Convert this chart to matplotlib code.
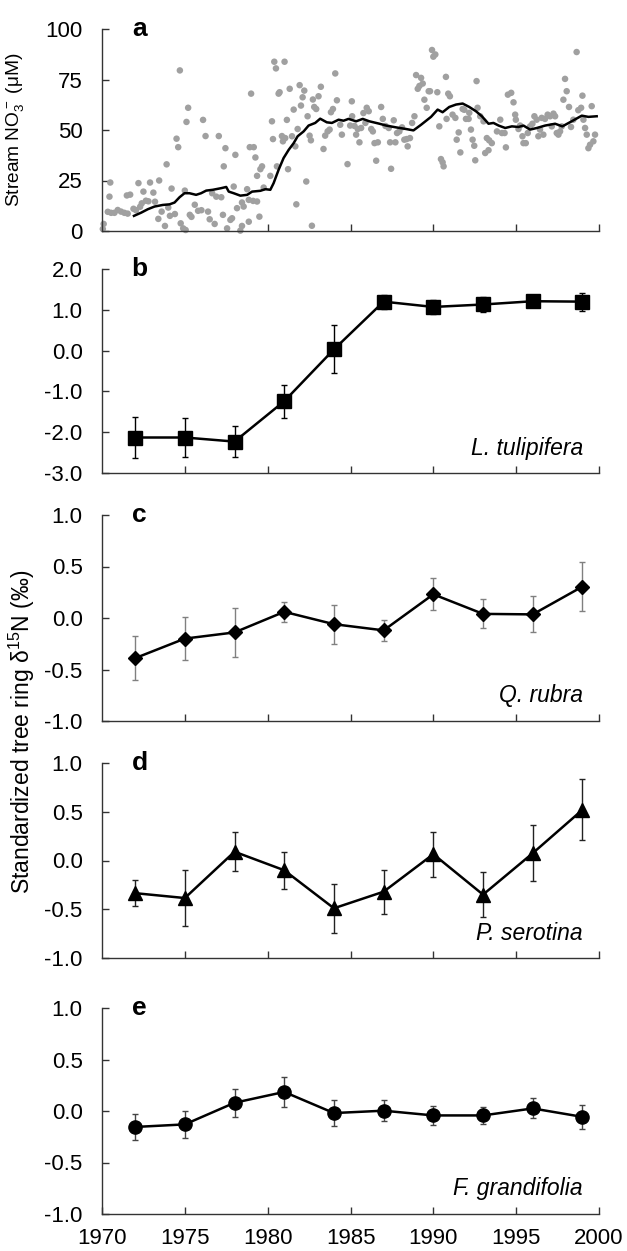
import numpy as np
import matplotlib
matplotlib.use('Agg')
from matplotlib import pyplot as plt

plt.rcParams['font.family'] = ['Liberation Sans', 'DejaVu Sans']
plt.rcParams['axes.unicode_minus'] = False
plt.rcParams['mathtext.fontset'] = 'custom'
plt.rcParams['mathtext.rm'] = 'Liberation Sans'
plt.rcParams['mathtext.it'] = 'Liberation Sans:italic'
plt.rcParams['mathtext.bf'] = 'Liberation Sans:bold'

# stream nitrate, individual samples
no3_year = [1970.05, 1970.1, 1970.45, 1970.5, 1970.35, 1970.55, 1970.75, 1970.95, 1971.15,
            1971.35, 1971.5, 1971.55, 1971.7, 1971.9, 1972.05, 1972.2, 1972.3, 1972.4, 1972.5,
            1972.65, 1972.8, 1972.9, 1973.1, 1973.2, 1973.4, 1973.45, 1973.6, 1973.8, 1973.9,
            1974.0, 1974.1, 1974.2, 1974.4, 1974.5, 1974.6, 1974.7, 1974.75, 1974.9, 1975.0,
            1975.05, 1975.1, 1975.2, 1975.3, 1975.4, 1975.6, 1975.8, 1976.0, 1976.1, 1976.25,
            1976.4, 1976.5, 1976.65, 1976.8, 1976.9, 1977.05, 1977.2, 1977.3, 1977.35,
            1977.45, 1977.55, 1977.75, 1977.85, 1977.95, 1978.05, 1978.15, 1978.35, 1978.45,
            1978.45, 1978.55, 1978.76, 1978.86, 1978.86, 1978.92, 1979.0, 1979.12, 1979.16,
            1979.26, 1979.36, 1979.36, 1979.5, 1979.56, 1979.66, 1979.76, 1980.16, 1980.26,
            1980.32, 1980.4, 1980.5, 1980.56, 1980.66, 1980.72, 1980.86, 1980.92, 1981.02,
            1981.06, 1981.16, 1981.23, 1981.33, 1981.47, 1981.57, 1981.67, 1981.73, 1981.81,
            1981.93, 1982.01, 1982.11, 1982.21, 1982.33, 1982.41, 1982.53, 1982.61, 1982.67,
            1982.73, 1982.81, 1982.93, 1983.07, 1983.21, 1983.37, 1983.47, 1983.62, 1983.74,
            1983.82, 1983.94, 1984.08, 1984.18, 1984.38, 1984.48, 1984.82, 1984.98, 1985.08,
            1985.1, 1985.24, 1985.34, 1985.44, 1985.54, 1985.64, 1985.78, 1985.9, 1985.98,
            1986.1, 1986.25, 1986.35, 1986.45, 1986.55, 1986.65, 1986.85, 1986.95, 1987.11,
            1987.31, 1987.39, 1987.45, 1987.61, 1987.71, 1987.81, 1987.95, 1988.11, 1988.25,
            1988.39, 1988.45, 1988.59, 1988.72, 1988.86, 1988.96, 1989.06, 1989.16, 1989.26,
            1989.36, 1989.46, 1989.6, 1989.72, 1989.8, 1989.92, 1990.0, 1990.12, 1990.24,
            1990.36, 1990.46, 1990.56, 1990.62, 1990.76, 1990.8, 1990.9, 1991.0, 1991.16,
            1991.33, 1991.41, 1991.53, 1991.63, 1991.77, 1991.87, 1991.97, 1992.13, 1992.17,
            1992.27, 1992.37, 1992.47, 1992.53, 1992.61, 1992.67, 1992.83, 1993.03, 1993.23,
            1993.37, 1993.53, 1993.13, 1993.33, 1993.84, 1994.04, 1994.14, 1994.3, 1994.38,
            1994.5, 1994.7, 1994.84, 1994.94, 1994.98, 1995.14, 1995.24, 1995.38, 1995.44,
            1995.58, 1995.7, 1995.84, 1995.98, 1996.1, 1996.24, 1996.34, 1996.44, 1996.54,
            1996.64, 1996.74, 1996.9, 1997.05, 1997.15, 1997.25, 1997.35, 1997.45, 1997.55,
            1997.65, 1997.75, 1997.85, 1997.95, 1998.05, 1998.19, 1998.31, 1998.45, 1998.65,
            1998.75, 1998.92, 1999.0, 1999.06, 1999.16, 1999.26, 1999.36, 1999.46, 1999.56,
            1999.66, 1999.76]
no3_conc = [1.0, 3.5, 17, 24, 9.5, 9.0, 9.0, 10.4, 9.6,
            9.0, 17.6, 8.6, 18, 11, 10.3, 23.7, 12, 13.7, 19.5,
            15, 14.7, 24, 19, 14.5, 6, 25, 9.6, 2.5, 33,
            11.6, 7.5, 21, 8.4, 45.7, 41.5, 79.5, 3.8, 1.3, 20,
            0.5, 54, 61, 8, 7, 13, 10, 10.3, 55, 47,
            9.6, 5.8, 18.7, 3.5, 17, 47, 16.7, 8, 32,
            41, 1.3, 5.5, 6.3, 22, 37.7, 11.3, 0.2, 14.1,
            2.5, 12.1, 20.7, 15.4, 4.6, 41.5, 68, 14.9, 41.5,
            36.4, 27.3, 14.6, 7.1, 30.6, 32, 21.5, 27.3, 54.3,
            45.5, 83.8, 80.5, 32, 68, 68.7, 47, 44.4, 83.8,
            46, 55, 30.6, 70.4, 46.9, 60.1, 41.9, 13.2, 50.5,
            72.2, 62.1, 66.2, 69.5, 24.5, 56.8, 47.2, 44.9, 2.6,
            65.1, 61.4, 60.4, 66.7, 71.4, 40.6, 47.2, 49.3, 50.2,
            58.8, 60.4, 78, 64.7, 52.6, 47.7, 33.1, 52.2, 64.2,
            56.8, 52, 47.7, 50.5, 43.9, 51, 58.4, 53.5, 61,
            59.3, 50.5, 49.3, 43.5, 34.8, 43.9, 61.4, 55.5, 52,
            51, 43.9, 30.8, 54.8, 43.9, 48.5, 49.3, 51.3, 45.2,
            45.5, 41.9, 46, 53.5, 56.8, 77.2, 70.4, 71.8, 75.8,
            73, 65, 61, 69.2, 69.2, 89.6, 86.3, 87.4, 68.7,
            51.8, 35.6, 34, 32, 76.3, 55.5, 68, 66.7, 57.6,
            56, 45.2, 48.8, 38.9, 60.4, 60, 55.5, 55.5, 58.5,
            50.2, 45.2, 42.2, 35, 74.2, 61, 56.8, 54.3, 46,
            44.9, 43.5, 38.6, 40, 49.3, 55.1, 48.5, 48.5, 41.4,
            67.5, 68.4, 63.7, 57.6, 55.1, 50.5, 52.2, 46.9, 43.5,
            43.5, 48.5, 51.8, 53.1, 56.8, 55.1, 46.9, 50.2, 56,
            47.7, 55.5, 57.6, 56.8, 51.8, 58.1, 56.8, 48.5, 47.7,
            49.3, 51.8, 65, 75.3, 69.2, 61.4, 51.5, 55.1, 88.6,
            59.8, 61, 67, 55.1, 51, 47.7, 41, 42.7, 61.8,
            44.4, 47.7]

# running mean of stream nitrate (black line)
run_year = [1971.93, 1972.37, 1972.77, 1973.17, 1973.67, 1974.08, 1974.38, 1974.68, 1974.98,
            1975.28, 1975.68, 1975.98, 1976.29, 1976.69, 1977.19, 1977.5, 1977.65, 1977.95,
            1978.35, 1978.76, 1979.06, 1979.56, 1979.86, 1980.16, 1980.36, 1980.66, 1980.96,
            1981.27, 1981.57, 1981.81, 1982.17, 1982.47, 1982.87, 1983.17, 1983.57, 1983.88,
            1984.28, 1984.58, 1984.88, 1985.34, 1985.74, 1986.14, 1986.75, 1987.15, 1987.75,
            1988.35, 1988.8, 1989.26, 1989.86, 1990.26, 1990.56, 1990.96, 1991.37, 1991.77,
            1992.17, 1992.57, 1992.93, 1993.33, 1993.63, 1993.94, 1994.34, 1994.74, 1995.14,
            1995.44, 1995.84, 1996.25, 1996.75, 1997.35, 1997.79, 1998.35, 1998.96, 1999.36,
            1999.86]
run_conc = [7.5, 9.1, 10.8, 12.1, 12.9, 13.2, 14.1, 16.7, 18.7,
            18.7, 17.9, 18.7, 20.0, 20.4, 21.2, 21.8, 19.5, 18.7,
            17.5, 17.9, 19.5, 19.9, 20.7, 20.4, 23.7, 30.3, 36.1,
            40.2, 43.5, 46.9, 49.3, 52.2, 53.5, 55.6, 53.8, 53.5,
            55.1, 54.6, 55.5, 54.3, 55.5, 54.3, 53.1, 52.2, 51.3,
            50.5, 49.8, 52.6, 56.5, 60.1, 58.8, 61.4, 62.6, 63.1,
            61.4, 59.3, 56.8, 53.1, 53.5, 52.2, 51.0, 51.8, 51.5,
            52.2, 50.2, 51.0, 52.2, 53.1, 51.8, 54.3, 57.1, 56.5,
            56.8]

# standardized tree ring d15N, mean and error
ring_year = [1972, 1975, 1978, 1981, 1984, 1987, 1990, 1993, 1996, 1999]
lt_mean = [-2.13, -2.13, -2.23, -1.24, 0.03, 1.20, 1.07, 1.13, 1.21, 1.20]
lt_err = [0.51, 0.47, 0.38, 0.40, 0.59, 0.17, 0.17, 0.18, 0.05, 0.22]
qr_mean = [-0.39, -0.20, -0.14, 0.06, -0.06, -0.12, 0.23, 0.04, 0.035, 0.305]
qr_err = [0.215, 0.21, 0.24, 0.10, 0.19, 0.10, 0.155, 0.14, 0.175, 0.24]
ps_mean = [-0.335, -0.385, 0.09, -0.10, -0.49, -0.32, 0.065, -0.35, 0.075, 0.52]
ps_err = [0.13, 0.29, 0.20, 0.19, 0.25, 0.225, 0.232, 0.227, 0.285, 0.313]
fg_mean = [-0.155, -0.13, 0.08, 0.185, -0.02, 0.003, -0.043, -0.043, 0.025, -0.057]
fg_err = [0.125, 0.13, 0.138, 0.142, 0.122, 0.10, 0.092, 0.08, 0.097, 0.115]

W, H = 627.0, 1251.0
TICK_FS = 16


def make_axes(left, top, right, bottom):
    ax = fig.add_axes([left / W, 1 - bottom / H, (right - left) / W, (bottom - top) / H])
    for s in ['top', 'right']:
        ax.spines[s].set_visible(False)
    for s in ['left', 'bottom']:
        ax.spines[s].set_color('#333333')
        ax.spines[s].set_linewidth(1.0)
    ax.tick_params(direction='in', length=5, width=1.0, color='#333333',
                   labelsize=TICK_FS)
    ax.tick_params(axis='y', pad=14)
    ax.tick_params(axis='x', pad=10)
    ax.set_xlim(1970, 2000)
    ax.set_xticks([1975, 1980, 1985, 1990, 1995, 2000])
    ax.tick_params(axis='x', labelbottom=False)
    return ax


fig = plt.figure(figsize=(6.27, 12.51), dpi=100)

# a: stream nitrate
ax = make_axes(102, 29, 599, 231)
ax.scatter(no3_year, no3_conc, s=22, color='#a0a0a0', edgecolors='none',
           clip_on=False, zorder=2)
ax.plot(run_year, run_conc, color='black', lw=1.8, zorder=3)
ax.set_ylim(0, 100)
ax.set_yticks([0, 25, 50, 75, 100])
ax.set_xticks([1980, 1985, 1990, 1995, 2000])
ax.set_ylabel('Stream NO$_3^-$ (\u03bcM)', fontsize=13.8)
ax.yaxis.set_label_coords((26 - 102) / 497, 0.5)
ax.text(0.076, 1.0, 'a', transform=ax.transAxes, fontsize=19, fontweight='bold',
        va='center', ha='center')

panels = [
    ('b', 269, 473, lt_mean, lt_err, 's', 9.5, 'black', 'L. tulipifera', (-3, 2), 1.0),
    ('c', 515, 721, qr_mean, qr_err, 'D', 7, '#808080', 'Q. rubra', (-1, 1), 0.5),
    ('d', 763, 958, ps_mean, ps_err, '^', 10, '#222222', 'P. serotina', (-1, 1), 0.5),
    ('e', 1008, 1214, fg_mean, fg_err, 'o', 9.5, '#444444', 'F. grandifolia', (-1, 1), 0.5),
]
for letter, top, bottom, mean, err, mk, ms, ecol, name, ylim, step in panels:
    ax = make_axes(102, top, 599, bottom)
    ax.errorbar(ring_year, mean, yerr=err, fmt='none', ecolor=ecol, elinewidth=1.0,
                capsize=2.5, capthick=1.0, zorder=2)
    ax.plot(ring_year, mean, color='black', lw=1.8, marker=mk, ms=ms, zorder=3)
    ax.set_ylim(*ylim)
    ax.set_yticks(np.arange(ylim[0], ylim[1] + step / 2, step))
    ax.yaxis.set_major_formatter(matplotlib.ticker.FormatStrFormatter('%.1f'))
    ax.text(0.076, 1.0, letter, transform=ax.transAxes, fontsize=19, fontweight='bold',
            va='center', ha='center')
    ax.text(0.968, 0.09, name, transform=ax.transAxes, fontsize=16.5, style='italic',
            ha='right', va='baseline')
    if letter == 'e':
        ax.set_xticks([1970, 1975, 1980, 1985, 1990, 1995, 2000])
        ax.tick_params(axis='x', labelbottom=True)

fig.text(22 / W, 1 - 732 / H, 'Standardized tree ring \u03b4$^{15}$N (\u2030)', rotation=90,
         fontsize=16.5, ha='center', va='center')

fig.savefig('out.png', dpi=100)
